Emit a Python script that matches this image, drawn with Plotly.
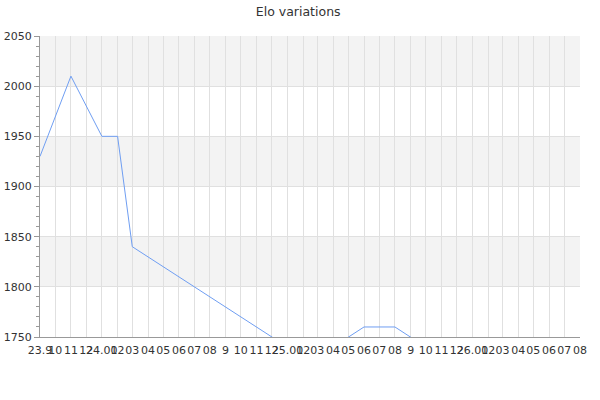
import plotly.graph_objects as go
import pandas as pd

# Data (values below 1750 are clipped in the original)
dates = ["2023-09-01", "2023-11-01", "2024-01-01", "2024-02-01", "2024-03-01",
         "2025-01-01", "2025-04-01", "2025-06-01", "2025-08-01", "2025-09-01",
         "2025-10-01", "2026-08-01"]
elo = [1930, 2010, 1950, 1950, 1840, 1740, 1740, 1760, 1760, 1750, 1740, 1740]

tick_labels = ["23.9", "10", "11", "12",
               "24.01", "02", "03", "04", "05", "06", "07", "08", "9", "10", "11", "12",
               "25.01", "02", "03", "04", "05", "06", "07", "08", "9", "10", "11", "12",
               "26.01", "02", "03", "04", "05", "06", "07", "08"]
tick_vals = list(pd.date_range("2023-09-01", periods=len(tick_labels), freq="MS"))

y_min, y_max, y_step = 1750, 2050, 50

fig = go.Figure()
fig.add_trace(go.Scatter(x=dates, y=elo, mode="lines",
                         line=dict(color="#6f9ef2", width=1), hoverinfo="x+y"))

# Alternating horizontal bands
shapes = []
for i, lo in enumerate(range(y_min, y_max, y_step)):
    if i % 2 == 1:
        shapes.append(dict(type="rect", xref="paper", yref="y", x0=0, x1=1,
                           y0=lo, y1=lo + y_step, fillcolor="#f3f3f3",
                           line=dict(width=0), layer="below"))

fig.update_layout(
    width=600, height=400,
    margin=dict(l=40, r=20, t=36, b=63, autoexpand=False),
    paper_bgcolor="white", plot_bgcolor="white",
    showlegend=False,
    shapes=shapes,
    font=dict(family="DejaVu Sans", color="#333333"),
    title=dict(text="Elo variations", x=0.497, xanchor="center", y=1 - 12 / 400,
               yanchor="middle", yref="container",
               font=dict(size=12.5, color="#333333")),
)
fig.update_xaxes(
    type="date", range=[tick_vals[0], tick_vals[-1]], automargin=False,
    tickvals=tick_vals, ticktext=tick_labels, tickangle=0,
    showgrid=True, gridcolor="#e0e0e0", gridwidth=1,
    showline=True, linecolor="#999999", linewidth=1,
    ticks="", tickfont=dict(size=11, color="#333333"), ticklabelstandoff=3,
    zeroline=False, mirror=False,
)
fig.update_yaxes(
    range=[y_min, y_max], dtick=y_step, tick0=y_min, automargin=False,
    showgrid=True, gridcolor="#e0e0e0", gridwidth=1,
    showline=True, linecolor="#999999", linewidth=1,
    ticks="outside", ticklen=5, tickcolor="#999999",
    minor=dict(dtick=10, ticks="outside", ticklen=3, tickcolor="#999999", showgrid=False),
    tickfont=dict(size=11, color="#333333"),
    zeroline=False,
)

fig.write_html("out.html", config={"displayModeBar": False},
               post_script="document.body.style.margin='0';document.body.style.overflow='hidden';")
